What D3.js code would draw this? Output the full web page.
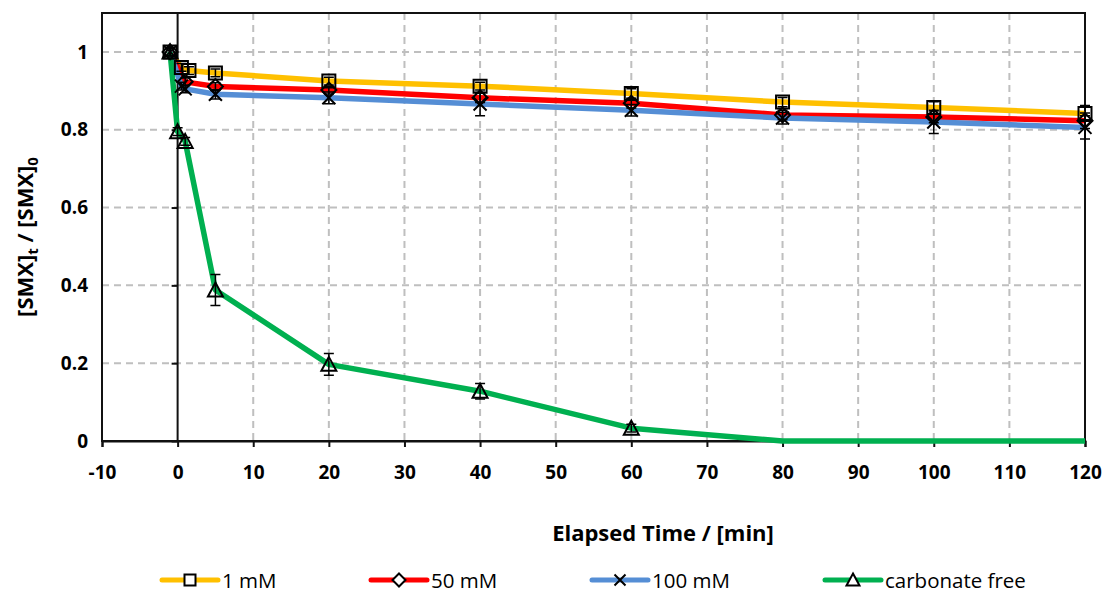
<!DOCTYPE html>
<html>
<head>
<meta charset="utf-8">
<script src="https://cdn.jsdelivr.net/npm/d3@7"></script>
<style>
  html, body { margin: 0; padding: 0; background: #fff; }
  svg { display: block; }
  text { font-family: "Open Sans", "Noto Sans", sans-serif; fill: #000; }
</style>
</head>
<body>
<svg id="chart" width="1108" height="593"></svg>
<script>
// Sampling times (min) and normalised SMX concentration per series
const t1mM   = [-1, 0.5, 1.5, 5, 20, 40, 60, 80, 100, 120];
const y1mM   = [1.0, 0.960, 0.952, 0.946, 0.925, 0.912, 0.893, 0.871, 0.857, 0.842];
const e1mM   = [0.01, 0.01, 0.01, 0.01, 0.01, 0.01, 0.012, 0.012, 0.015, 0.02];

const t50mM  = [-1, 1, 5, 20, 40, 60, 80, 100, 120];
const y50mM  = [1.0, 0.923, 0.911, 0.902, 0.882, 0.868, 0.838, 0.833, 0.823];
const e50mM  = [0.01, 0.01, 0.01, 0.01, 0.012, 0.012, 0.012, 0.015, 0.02];

const t100mM = [-1, 0.5, 1, 5, 20, 40, 60, 80, 100, 120];
const y100mM = [1.0, 0.912, 0.905, 0.891, 0.882, 0.866, 0.850, 0.830, 0.820, 0.806];
const e100mM = [0.01, 0.01, 0.01, 0.012, 0.015, 0.03, 0.015, 0.015, 0.03, 0.03];

const tFree  = [-1, 0, 1, 5, 20, 40, 60, 80, 100, 120];
const yFree  = [1.0, 0.795, 0.770, 0.388, 0.197, 0.128, 0.033, 0, 0, 0];
const eFree  = [0.01, 0.01, 0.01, 0.04, 0.028, 0.02, 0.01, 0, 0, 0];

const seriesNames = ["1 mM", "50 mM", "100 mM", "carbonate free"];
const xTicks = [-10, 0, 10, 20, 30, 40, 50, 60, 70, 80, 90, 100, 110, 120];
const yTicks = [0, 0.2, 0.4, 0.6, 0.8, 1];

const series = [
  { name: seriesNames[0], t: t1mM,   y: y1mM,   e: e1mM,   color: "#FFC000", marker: "square" },
  { name: seriesNames[1], t: t50mM,  y: y50mM,  e: e50mM,  color: "#FF0000", marker: "diamond" },
  { name: seriesNames[2], t: t100mM, y: y100mM, e: e100mM, color: "#558ED5", marker: "cross" },
  { name: seriesNames[3], t: tFree,  y: yFree,  e: eFree,  color: "#00B050", marker: "triangle" }
];

const svg = d3.select("#chart");
const plot = { left: 102, right: 1085, top: 13, bottom: 441 };

const x = d3.scaleLinear().domain([-10, 120]).range([plot.left, plot.right]);
const y = d3.scaleLinear().domain([0, 1.1]).range([plot.bottom, plot.top]);

// Gridlines
const grid = svg.append("g");
grid.selectAll("line.gx").data(xTicks.filter(d => d !== 0 && d !== -10 && d !== 120))
  .join("line")
  .attr("x1", d => x(d)).attr("x2", d => x(d))
  .attr("y1", plot.top).attr("y2", plot.bottom)
  .attr("stroke", "#bfbfbf").attr("stroke-width", 2).attr("stroke-dasharray", "7,5");
grid.selectAll("line.gy").data(yTicks.filter(d => d !== 0))
  .join("line")
  .attr("x1", plot.left).attr("x2", plot.right)
  .attr("y1", d => y(d)).attr("y2", d => y(d))
  .attr("stroke", "#bfbfbf").attr("stroke-width", 2).attr("stroke-dasharray", "7,5");

// Plot frame
svg.append("rect")
  .attr("x", plot.left).attr("y", plot.top)
  .attr("width", plot.right - plot.left).attr("height", plot.bottom - plot.top)
  .attr("fill", "none").attr("stroke", "#111").attr("stroke-width", 2);

// X axis along y = 0 with ticks pointing down
const xAxis = svg.append("g")
  .attr("transform", `translate(0,${y(0)})`)
  .call(d3.axisBottom(x).tickValues(xTicks).tickSize(6).tickFormat(d => String(d)));
xAxis.select(".domain").attr("stroke", "#111").attr("stroke-width", 2);
xAxis.selectAll(".tick line").attr("stroke", "#111").attr("stroke-width", 2);
xAxis.selectAll("text")
  .attr("y", 38).attr("dy", 0)
  .attr("font-size", 19).attr("font-weight", "bold")
  .attr("font-family", "'Open Sans', 'Noto Sans', sans-serif").attr("fill", "#000");

// Y axis crossing at t = 0, labels drawn at the left edge
const yAxis = svg.append("g")
  .attr("transform", `translate(${x(0)},0)`)
  .call(d3.axisLeft(y).tickValues(yTicks).tickSize(6).tickFormat(d => String(+d.toFixed(1))));
yAxis.select(".domain").attr("d", `M0,${plot.top}V${plot.bottom}`).attr("stroke", "#111").attr("stroke-width", 2);
yAxis.selectAll(".tick line").attr("stroke", "#111").attr("stroke-width", 2);
yAxis.selectAll("text")
  .attr("x", 88 - x(0))
  .attr("font-size", 19).attr("font-weight", "bold")
  .attr("font-family", "'Open Sans', 'Noto Sans', sans-serif").attr("fill", "#000");

// Marker shapes
function markerPath(type, s) {
  const h = s / 2;
  if (type === "square") return `M${-h},${-h}H${h}V${h}H${-h}Z`;
  if (type === "diamond") return `M0,${-h - 1}L${h + 1},0L0,${h + 1}L${-h - 1},0Z`;
  if (type === "cross") return `M${-h},${-h}L${h},${h}M${h},${-h}L${-h},${h}`;
  if (type === "triangle") return `M0,${-h - 1}L${h + 1},${h}L${-h - 1},${h}Z`;
}

const line = d3.line().x(d => x(d[0])).y(d => y(d[1]));

// Series lines
series.forEach(s => {
  const pts = s.t.map((t, i) => [t, s.y[i]]);
  svg.append("path").datum(pts)
    .attr("d", line)
    .attr("fill", "none").attr("stroke", s.color).attr("stroke-width", 5.5)
    .attr("stroke-linejoin", "round");
});

// Error bars and markers
series.forEach(s => {
  const g = svg.append("g");
  s.t.forEach((t, i) => {
    if (s.marker === "triangle" && s.y[i] === 0) return;
    const cx = x(t), lo = y(s.y[i] - s.e[i]), hi = y(s.y[i] + s.e[i]);
    g.append("path")
      .attr("d", `M${cx},${lo}V${hi}M${cx - 5},${lo}H${cx + 5}M${cx - 5},${hi}H${cx + 5}`)
      .attr("stroke", "#000").attr("stroke-width", 1.5).attr("fill", "none");
    g.append("path")
      .attr("transform", `translate(${cx},${y(s.y[i])})`)
      .attr("d", markerPath(s.marker, 13))
      .attr("fill", "none").attr("stroke", "#000").attr("stroke-width", 2);
  });
});

// Axis titles
svg.append("text")
  .attr("x", 663).attr("y", 541)
  .attr("text-anchor", "middle")
  .attr("font-size", 22).attr("font-weight", "bold")
  .text("Elapsed Time / [min]");

const yt = svg.append("text")
  .attr("transform", "translate(33,237) rotate(-90)")
  .attr("text-anchor", "middle")
  .attr("font-size", 22).attr("font-weight", "bold");
yt.append("tspan").text("[SMX]");
yt.append("tspan").attr("font-size", 15).attr("dy", 5).text("t");
yt.append("tspan").attr("dy", -5).text(" / [SMX]");
yt.append("tspan").attr("font-size", 15).attr("dy", 5).text("0");

// Legend
const legendX = [162, 371, 592, 825];
const legend = svg.append("g");
series.forEach((s, i) => {
  const lx = legendX[i], ly = 580;
  legend.append("line")
    .attr("x1", lx).attr("x2", lx + 56).attr("y1", ly).attr("y2", ly)
    .attr("stroke", s.color).attr("stroke-width", 5).attr("stroke-linecap", "round");
  legend.append("path")
    .attr("transform", `translate(${lx + 28},${ly})`)
    .attr("d", markerPath(s.marker, 11))
    .attr("fill", s.marker === "cross" ? "none" : "#fff").attr("stroke", "#000").attr("stroke-width", 2);
  legend.append("text")
    .attr("x", lx + 60).attr("y", ly + 7.5)
    .attr("font-size", 20.5)
    .text(s.name);
});
</script>
</body>
</html>
